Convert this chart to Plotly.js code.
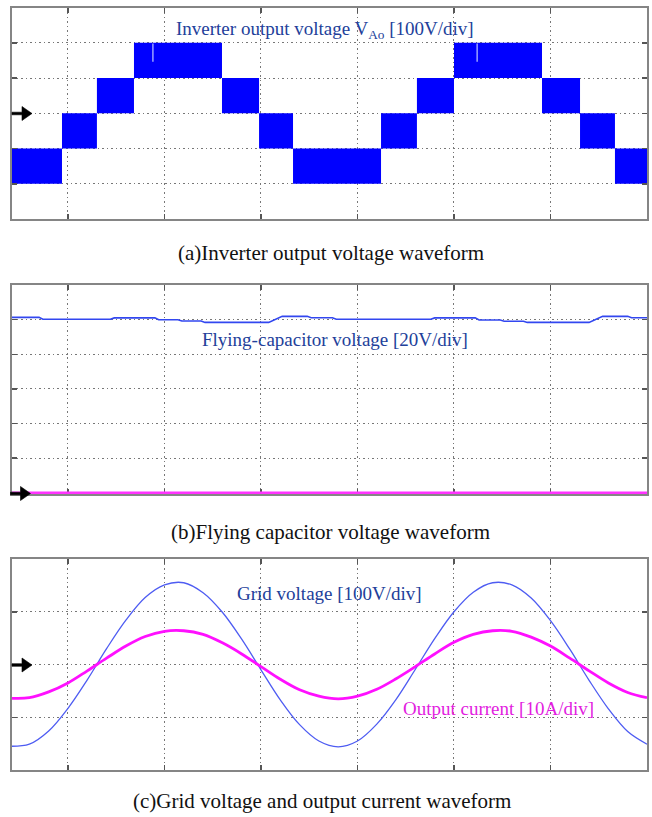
<!DOCTYPE html>
<html>
<head>
<meta charset="utf-8">
<script src="https://cdn.plot.ly/plotly-3.0.1.min.js"></script>
<style>html,body{margin:0;padding:0;background:#fff;}#chart{width:652px;height:817px;}</style>
</head>
<body>
<div id="chart"></div>
<script>
// ---------- data (time in ms, 5 ms/div) ----------
// (a) inverter output voltage: PWM blocks between adjacent levels
const blockEdges = [-2.9, -0.31, 1.50, 3.42, 7.98, 9.90, 11.66, 16.22, 18.08, 20.00, 24.56, 26.53, 28.34, 30.0];
const blockLow   = [-200, -100, 0, 100, 0, -100, -200, -100, 0, 100, 0, -100, -200]; // V
const levelStep  = 100; // V between adjacent levels
const glitchTimes = [4.4, 21.2];
const glitchTop = 198, glitchBottom = 146;

// (b) flying-capacitor voltage and reference line
const capT = [-2.9, -1.5, -1.3, 2.2, 2.4, 4.5, 4.7, 5.7, 5.9, 6.9, 7.1, 10.4, 11.1, 12.4, 12.6, 13.7, 13.9, 18.8, 19.0, 21.1, 21.3, 22.4, 22.6, 23.6, 23.8, 27.0, 27.7, 29.0, 29.2, 30.0];
const capV = [101.3, 101.3, 100.2, 100.2, 101.0, 101.0, 99.9, 99.9, 99.2, 99.2, 98.4, 98.4, 101.9, 101.9, 101.1, 101.1, 100.2, 100.2, 101.0, 101.0, 99.8, 99.8, 99.1, 99.1, 98.4, 98.4, 101.9, 101.9, 101.1, 101.1];
const refT = [-2.9, 30.0];
const refV = [0, 0];

// (c) grid voltage and output current
const gridT = [-3, -2, -1, 0, 1, 2, 3, 4, 5, 6, 7, 8, 9, 10, 11, 12, 13, 14, 15, 16, 17, 18, 19, 20, 21, 22, 23, 24, 25, 26, 27, 28, 29, 30];
const gridV = [-155, -151, -126, -83, -29, 30, 84, 127, 151, 155, 136, 99, 48, -10, -67, -114, -145, -156, -145, -113, -66, -9, 49, 100, 137, 155, 151, 126, 83, 29, -30, -84, -127, -151];
const outI  = [-6.4, -6.3, -5.2, -3.5, -1.2, 1.2, 3.5, 5.3, 6.3, 6.4, 5.7, 4.1, 2.0, -0.4, -2.8, -4.8, -6.0, -6.5, -6.0, -4.7, -2.7, -0.4, 2.0, 4.2, 5.7, 6.4, 6.3, 5.2, 3.5, 1.2, -1.2, -3.5, -5.3, -6.3];

// ---------- build ----------
const W = 652, H = 817;
const px = (x) => x / W, py = (y) => 1 - y / H;

const barX = [], barW = [], barH = [];
for (let i = 0; i < blockLow.length; i++) {
  barX.push((blockEdges[i] + blockEdges[i + 1]) / 2);
  barW.push(blockEdges[i + 1] - blockEdges[i]);
  barH.push(levelStep);
}
const gx = [], gy = [];
glitchTimes.forEach(t => { gx.push(t, t, null); gy.push(glitchTop, glitchBottom, null); });

const traces = [
  {type: 'bar', x: barX, y: barH, base: blockLow, width: barW, xaxis: 'x', yaxis: 'y',
   marker: {color: '#0000ff', line: {width: 0}}, hoverinfo: 'skip'},
  {type: 'scatter', mode: 'lines', x: gx, y: gy, xaxis: 'x', yaxis: 'y',
   line: {color: '#9aa2ff', width: 1.5}, hoverinfo: 'skip'},
  {type: 'scatter', mode: 'lines', x: capT, y: capV, xaxis: 'x2', yaxis: 'y2',
   line: {color: '#3247f0', width: 1.6}},
  {type: 'scatter', mode: 'lines', x: refT, y: refV, xaxis: 'x2', yaxis: 'y2',
   line: {color: '#ff33ff', width: 2.6}},
  {type: 'scatter', mode: 'lines', x: gridT, y: gridV, xaxis: 'x3', yaxis: 'y3',
   line: {color: '#4e5cf2', width: 1.3, shape: 'spline', smoothing: 1}},
  {type: 'scatter', mode: 'lines', x: gridT, y: outI, xaxis: 'x3', yaxis: 'y4',
   line: {color: '#ff10ff', width: 2.8, shape: 'spline', smoothing: 1}}
];

const xDom = [px(12), px(647)];
const common = {
  showticklabels: false, showgrid: true, gridcolor: '#777', gridwidth: 1, griddash: '1.5px,3px',
  zeroline: false, showline: true, linecolor: '#858585', linewidth: 1.6, mirror: 'ticks',
  ticks: 'inside', ticklen: 5, tickwidth: 1.5, tickcolor: '#555', fixedrange: true
};
const xa = (anchor, extra) => Object.assign({}, common, {domain: xDom, range: [-2.9, 30], tick0: 0, dtick: 5, anchor: anchor}, extra || {});

// zero-level arrow markers (pixel-sized, anchored at the tip, unclipped)
const arrowPath = 'M-20,-1.3 L-10,-1.3 L-10,-7 L0,0 L-10,7 L-10,1.3 L-20,1.3 Z';
const arrow = (tipX, tipY) => ({type: 'path', xref: 'paper', yref: 'paper', xsizemode: 'pixel', ysizemode: 'pixel',
  xanchor: px(tipX), yanchor: py(tipY), path: arrowPath, fillcolor: '#000', line: {color: '#000', width: 0.6}, layer: 'above'});

const layout = {
  width: W, height: H, margin: {l: 0, r: 0, t: 0, b: 0, pad: 0},
  paper_bgcolor: '#fff', plot_bgcolor: '#fff', showlegend: false, barmode: 'overlay',
  font: {family: '"Liberation Serif", "Times New Roman", serif', color: '#000'},
  xaxis: xa('y'),
  yaxis: Object.assign({}, common, {domain: [py(219), py(7.5)], range: [-300, 300], tick0: 0, dtick: 100, anchor: 'x'}),
  xaxis2: xa('y2', {layer: 'below traces'}),
  yaxis2: Object.assign({}, common, {domain: [py(494), py(285)], range: [-0.7, 120], tick0: 0, dtick: 20, anchor: 'x2', layer: 'below traces'}),
  xaxis3: xa('y3'),
  yaxis3: Object.assign({}, common, {domain: [py(770), py(559)], range: [-200, 200], tick0: 0, dtick: 100, anchor: 'x3'}),
  yaxis4: {overlaying: 'y3', range: [-20, 20], showgrid: false, zeroline: false, showline: false, showticklabels: false, ticks: '', anchor: 'x3', fixedrange: true},
  shapes: [arrow(32, 113.5), arrow(30.5, 493.5), arrow(32, 665)],
  annotations: [
    {xref: 'paper', yref: 'paper', x: px(325), y: py(30), xanchor: 'center', yanchor: 'middle', showarrow: false,
     text: 'Inverter output voltage V<sub>Ao</sub> [100V/div]', font: {size: 19, color: '#22409a'}},
    {xref: 'paper', yref: 'paper', x: px(335), y: py(340), xanchor: 'center', yanchor: 'middle', showarrow: false,
     text: 'Flying-capacitor voltage [20V/div]', font: {size: 19, color: '#22409a'}},
    {xref: 'paper', yref: 'paper', x: px(329), y: py(593), xanchor: 'center', yanchor: 'middle', showarrow: false,
     text: 'Grid voltage [100V/div]', font: {size: 19, color: '#22409a'}},
    {xref: 'paper', yref: 'paper', x: px(498), y: py(708), xanchor: 'center', yanchor: 'middle', showarrow: false,
     text: 'Output current [10A/div]', font: {size: 19, color: '#e21de0'}},
    {xref: 'paper', yref: 'paper', x: px(331), y: py(253), xanchor: 'center', yanchor: 'middle', showarrow: false,
     text: '(a)Inverter output voltage waveform', font: {size: 21, color: '#111'}},
    {xref: 'paper', yref: 'paper', x: px(330.5), y: py(532), xanchor: 'center', yanchor: 'middle', showarrow: false,
     text: '(b)Flying capacitor voltage waveform', font: {size: 21, color: '#111'}},
    {xref: 'paper', yref: 'paper', x: px(321.5), y: py(801), xanchor: 'center', yanchor: 'middle', showarrow: false,
     text: '(c)Grid voltage and output current waveform', font: {size: 21, color: '#111'}}
  ]
};

Plotly.newPlot('chart', traces, layout, {staticPlot: true, displayModeBar: false});
</script>
</body>
</html>
